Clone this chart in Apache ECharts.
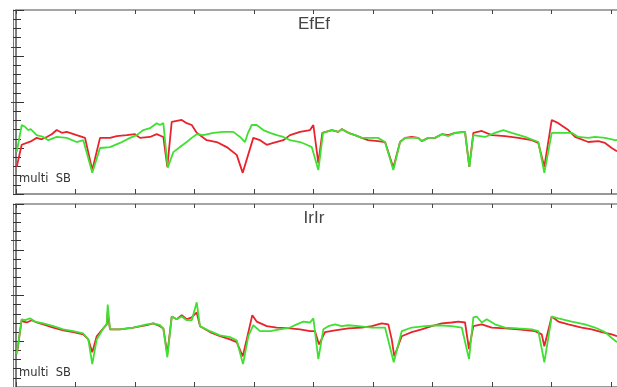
<!DOCTYPE html>
<html><head><meta charset="utf-8">
<script src="https://cdn.jsdelivr.net/npm/echarts@6/dist/echarts.min.js"></script>
<style>html,body{margin:0;padding:0;background:#fff}#c{width:617px;height:387px}</style>
</head><body><div id="c"></div>
<script>
// Panel titles and labels
const panelTitles = ['EfEf', 'IrIr'];
const panelNote = 'multi  SB';

// Top panel (EfEf) — [x, value]
const topRed = [[0.12,0.59],[0.96,1.07],[1.80,1.11],[2.6,1.15],[3.48,1.22],[4.3,1.19],[5.16,1.24],[6.0,1.30],[6.84,1.39],[7.7,1.33],[8.52,1.35],[10.20,1.28],[11.60,1.22],[12.82,0.52],[14.12,1.22],[15.80,1.22],[16.92,1.26],[18.61,1.28],[20.0,1.30],[20.84,1.22],[22.52,1.24],[23.65,1.30],[24.76,1.24],[25.43,0.59],[26.17,1.57],[27.85,1.61],[28.69,1.54],[29.53,1.50],[30.37,1.33],[32.05,1.17],[33.73,1.13],[35.41,1.02],[37.09,0.85],[38.10,0.46],[39.88,1.22],[41.01,1.17],[42.14,1.07],[43.24,1.11],[44.92,1.17],[46.05,1.28],[47.73,1.35],[49.41,1.39],[49.97,1.50],[50.81,0.67],[51.48,1.33],[53.06,1.39],[54.17,1.35],[54.74,1.41],[55.85,1.33],[56.97,1.28],[58.10,1.22],[59.16,1.17],[60.84,1.15],[62.02,1.13],[63.41,0.57],[64.54,1.13],[65.38,1.22],[66.50,1.24],[67.61,1.22],[68.18,1.15],[69.29,1.22],[70.42,1.22],[71.55,1.30],[72.66,1.28],[73.78,1.33],[75.46,1.35],[76.18,0.59],[76.86,1.33],[78.27,1.37],[79.95,1.28],[82.18,1.26],[84.42,1.22],[86.67,1.17],[87.78,1.11],[88.79,0.59],[90.03,1.61],[91.14,1.54],[92.82,1.39],[93.95,1.24],[96.18,1.13],[97.87,1.15],[99.0,1.11],[100.1,1.0],[101.0,0.93]];
const topGreen = [[0.12,0.91],[0.96,1.50],[1.51,1.46],[2.07,1.39],[2.47,1.41],[3.48,1.28],[4.59,1.24],[5.43,1.17],[6.84,1.24],[8.52,1.22],[10.20,1.13],[11.31,1.17],[12.82,0.46],[14.12,1.0],[15.80,1.02],[17.48,1.11],[19.16,1.22],[20.29,1.28],[21.39,1.39],[22.52,1.43],[23.65,1.54],[24.20,1.50],[24.76,1.54],[25.50,0.57],[26.44,0.91],[27.56,1.02],[28.69,1.13],[29.53,1.22],[30.37,1.30],[31.48,1.28],[33.16,1.33],[34.84,1.35],[36.52,1.35],[37.65,1.24],[38.49,1.13],[38.99,1.33],[39.61,1.50],[40.45,1.50],[41.56,1.39],[42.69,1.33],[43.82,1.28],[44.92,1.24],[46.05,1.17],[47.73,1.13],[48.86,1.07],[49.70,1.02],[50.81,0.52],[51.60,1.33],[53.06,1.39],[54.17,1.35],[54.74,1.41],[55.85,1.33],[56.97,1.28],[58.10,1.22],[59.16,1.22],[60.84,1.22],[62.02,1.13],[63.41,0.52],[64.54,1.13],[65.38,1.22],[66.50,1.22],[67.61,1.22],[68.18,1.15],[69.29,1.22],[70.42,1.22],[71.55,1.30],[72.66,1.26],[73.78,1.33],[75.46,1.35],[76.18,0.59],[76.86,1.28],[78.82,1.24],[80.50,1.33],[81.90,1.39],[83.31,1.33],[85.55,1.24],[87.78,1.13],[88.79,0.46],[90.03,1.33],[91.71,1.33],[93.39,1.33],[94.50,1.24],[96.18,1.22],[97.31,1.24],[98.99,1.22],[100.67,1.17],[101.0,1.17]];

// Bottom panel (IrIr) — [x, value]
const botRed = [[0.22,0.78],[0.96,1.48],[1.23,1.43],[1.80,1.41],[2.64,1.46],[3.48,1.41],[4.59,1.37],[6.27,1.30],[7.95,1.24],[9.63,1.20],[11.31,1.15],[12.15,1.04],[12.82,0.76],[13.56,1.11],[14.67,1.28],[15.24,1.37],[15.41,1.63],[15.80,1.26],[17.48,1.26],[19.71,1.30],[21.97,1.35],[23.08,1.39],[24.20,1.33],[24.76,1.28],[25.43,0.72],[26.17,1.54],[27.01,1.48],[27.85,1.57],[28.69,1.48],[29.53,1.52],[30.37,1.63],[30.92,1.33],[32.61,1.20],[34.29,1.11],[35.97,1.04],[37.09,0.98],[38.10,0.67],[38.77,1.04],[39.71,1.57],[40.45,1.43],[42.14,1.33],[43.82,1.30],[46.05,1.28],[47.73,1.26],[49.41,1.22],[50.25,1.22],[50.92,0.93],[51.93,1.20],[53.61,1.24],[55.85,1.28],[58.10,1.30],[59.78,1.33],[61.46,1.39],[62.57,1.37],[63.14,1.04],[63.58,0.67],[64.82,1.11],[66.50,1.20],[68.18,1.26],[69.86,1.33],[71.55,1.39],[73.23,1.41],[74.34,1.43],[75.46,1.41],[76.13,0.83],[76.86,1.33],[78.27,1.37],[79.95,1.30],[82.18,1.28],[84.42,1.26],[87.23,1.22],[88.35,1.15],[88.79,0.89],[90.03,1.54],[91.14,1.43],[92.82,1.37],[95.07,1.30],[96.75,1.26],[98.43,1.20],[100.12,1.15],[101.0,1.11]];
const botGreen = [[0.12,0.72],[0.96,1.48],[1.51,1.46],[2.35,1.50],[3.19,1.43],[4.59,1.39],[6.27,1.33],[7.95,1.26],[9.63,1.22],[11.31,1.17],[12.15,1.04],[12.82,0.50],[13.56,1.04],[14.67,1.28],[15.24,1.37],[15.41,1.80],[15.80,1.26],[17.48,1.26],[19.71,1.30],[21.97,1.37],[23.08,1.39],[24.20,1.35],[24.76,1.28],[25.43,0.65],[26.17,1.54],[27.01,1.48],[27.85,1.54],[28.69,1.46],[29.53,1.46],[30.37,1.85],[30.92,1.33],[32.61,1.22],[34.29,1.13],[35.97,1.09],[37.09,1.02],[38.15,0.50],[39.04,1.11],[39.88,1.35],[41.01,1.22],[42.69,1.22],[44.37,1.26],[46.05,1.30],[47.18,1.37],[48.29,1.43],[49.41,1.41],[49.97,1.50],[50.81,0.61],[51.65,1.26],[52.49,1.33],[53.61,1.37],[54.74,1.33],[55.85,1.35],[57.53,1.33],[59.78,1.30],[62.02,1.30],[63.48,0.54],[64.82,1.22],[66.50,1.30],[68.74,1.33],[70.97,1.35],[73.23,1.33],[74.91,1.30],[76.13,0.61],[76.86,1.52],[77.43,1.54],[78.27,1.41],[79.11,1.48],[80.50,1.37],[82.18,1.30],[84.42,1.28],[86.67,1.26],[87.78,1.22],[88.79,0.54],[90.03,1.54],[91.14,1.50],[93.39,1.43],[95.63,1.37],[97.31,1.30],[98.99,1.20],[100.12,1.07],[101.0,0.98]];

// Right-axis tick positions (value units)
const rightTicks = [2, 3.2];

const RED = '#e8232c', GREEN = '#40e033';
const chart = echarts.init(document.getElementById('c'), null, {renderer: 'canvas'});

const grids = [
  {left: 16, top: 10, width: 601, height: 184},
  {left: 16, top: 204, width: 601, height: 184}
];
const xAxes = [], yAxes = [], series = [];
[0, 1].forEach(g => {
  const xBase = {type: 'value', gridIndex: g, min: 0, max: 101, interval: 10,
    axisLabel: {show: false}, splitLine: {show: false}};
  xAxes.push(Object.assign({}, xBase, {position: 'bottom',
    axisLine: {show: true, lineStyle: {color: '#777', width: 1.5}},
    axisTick: {show: true, inside: true, length: 5, lineStyle: {color: '#444'}}}));
  xAxes.push(Object.assign({}, xBase, {position: 'top',
    axisLine: {show: true, onZero: false, lineStyle: {color: '#888', width: 1.5}},
    axisTick: {show: true, inside: true, length: 4, lineStyle: {color: '#444'}}}));
  const yBase = {type: 'value', gridIndex: g, min: 0, max: 4, interval: 1,
    axisLabel: {show: false}, splitLine: {show: false}};
  yAxes.push(Object.assign({}, yBase, {position: 'left',
    axisLine: {show: true, onZero: false, lineStyle: {color: '#555', width: 1.5}},
    axisTick: {show: true, inside: true, length: 8, lineStyle: {color: '#333'}},
    minorTick: {show: true, splitNumber: 5, length: 5, lineStyle: {color: '#333'}}}));
  yAxes.push(Object.assign({}, yBase, {position: 'left', offset: 3,
    axisLine: {show: true, onZero: false, lineStyle: {color: '#777', width: 1}},
    axisTick: {show: true, inside: true, length: 4, lineStyle: {color: '#333'}},
    minorTick: {show: true, splitNumber: 5, length: 4, lineStyle: {color: '#333'}}}));
  yAxes.push(Object.assign({}, yBase, {position: 'right',
    axisLine: {show: false},
    axisTick: {show: true, inside: true, length: 5, customValues: rightTicks, lineStyle: {color: '#444'}}}));
});

function addLine(data, g, color) {
  series.push({type: 'line', xAxisIndex: g * 2, yAxisIndex: g * 3, data: data,
    showSymbol: false, symbol: 'none', animation: false,
    lineStyle: {color: color, width: 1.8}, itemStyle: {color: color}});
}
addLine(topRed, 0, RED);
addLine(topGreen, 0, GREEN);
addLine(botRed, 1, RED);
addLine(botGreen, 1, GREEN);

const graphic = [];
const titleY = [16, 210];
const noteY = [173, 367];
[0, 1].forEach(g => {
  graphic.push({type: 'text', x: 314, y: titleY[g],
    style: {text: panelTitles[g], fill: '#444', font: '17px "Liberation Sans", sans-serif', textAlign: 'center', textVerticalAlign: 'top'}});
  graphic.push({type: 'text', x: 19, y: noteY[g],
    style: {text: panelNote, fill: '#333', font: '11.5px "DejaVu Sans", sans-serif', textAlign: 'left', textVerticalAlign: 'top'}});
});

chart.setOption({
  animation: false,
  backgroundColor: '#fff',
  grid: grids,
  xAxis: xAxes,
  yAxis: yAxes,
  series: series,
  graphic: graphic
});
</script></body></html>
